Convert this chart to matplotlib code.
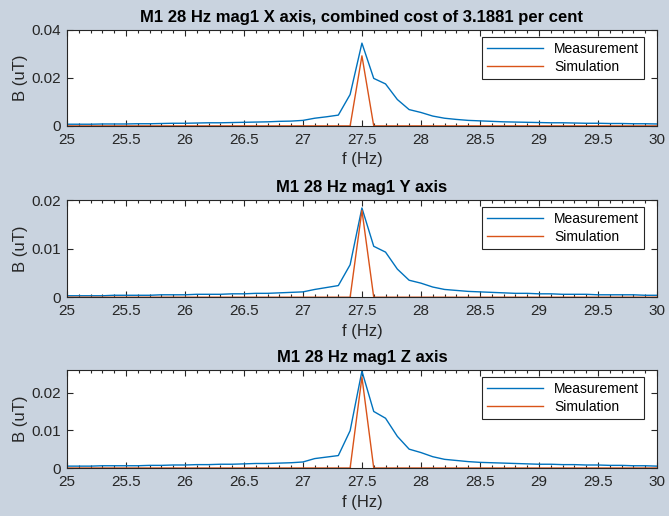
import numpy as np
import matplotlib
matplotlib.use("Agg")
import matplotlib.pyplot as plt
from matplotlib.ticker import MultipleLocator, FuncFormatter

plt.rcParams['font.family'] = ['Liberation Sans', 'DejaVu Sans']

# frequency bins (0.1 Hz resolution)
freq = np.linspace(25.0, 30.0, 51)

meas_x = [0.0007, 0.0007, 0.0007, 0.0008, 0.0008, 0.0008, 0.0009, 0.0009, 0.0010, 0.0011,
          0.0011, 0.0012, 0.0013, 0.0013, 0.0014, 0.0015, 0.0016, 0.0017, 0.0019, 0.0020,
          0.0023, 0.0032, 0.0038, 0.0045, 0.0131, 0.0345, 0.0198, 0.0175, 0.0110, 0.0068,
          0.0056, 0.0041, 0.0032, 0.0027, 0.0023, 0.0021, 0.0019, 0.0017, 0.0016, 0.0015,
          0.0014, 0.0013, 0.0013, 0.0012, 0.0011, 0.0011, 0.0010, 0.0010, 0.0009, 0.0009,
          0.0008]
meas_y = [0.0003, 0.0003, 0.0003, 0.0003, 0.0004, 0.0004, 0.0004, 0.0004, 0.0005, 0.0005,
          0.0005, 0.0006, 0.0006, 0.0006, 0.0007, 0.0007, 0.0008, 0.0008, 0.0009, 0.0010,
          0.0011, 0.0016, 0.0020, 0.0024, 0.0067, 0.0184, 0.0105, 0.0093, 0.0058, 0.0035,
          0.0029, 0.0021, 0.0016, 0.0014, 0.0012, 0.0011, 0.0010, 0.0009, 0.0008, 0.0008,
          0.0007, 0.0007, 0.0006, 0.0006, 0.0006, 0.0005, 0.0005, 0.0005, 0.0005, 0.0004,
          0.0004]
meas_z = [0.0005, 0.0005, 0.0005, 0.0006, 0.0006, 0.0006, 0.0006, 0.0007, 0.0007, 0.0008,
          0.0008, 0.0009, 0.0009, 0.0010, 0.0010, 0.0011, 0.0012, 0.0012, 0.0013, 0.0014,
          0.0016, 0.0025, 0.0029, 0.0033, 0.0099, 0.0257, 0.0150, 0.0132, 0.0084, 0.0050,
          0.0041, 0.0030, 0.0023, 0.0020, 0.0017, 0.0015, 0.0014, 0.0013, 0.0012, 0.0011,
          0.0010, 0.0010, 0.0009, 0.0009, 0.0008, 0.0008, 0.0007, 0.0007, 0.0006, 0.0006,
          0.0005]

# simulation: single line at 27.5 Hz
sim_x = [0.0] * 25 + [0.0292] + [0.0] * 25
sim_y = [0.0] * 25 + [0.0179] + [0.0] * 25
sim_z = [0.0] * 25 + [0.0241] + [0.0] * 25

titles = ["M1 28 Hz mag1 X axis, combined cost of 3.1881 per cent",
          "M1 28 Hz mag1 Y axis",
          "M1 28 Hz mag1 Z axis"]
ylims = [0.04, 0.02, 0.026]
yticks = [[0, 0.02, 0.04], [0, 0.01, 0.02], [0, 0.01, 0.02]]

BG = '#c9d3df'
DARK = '#262626'

fig = plt.figure(figsize=(6.69, 5.16), dpi=100, facecolor=BG)
rects = [[0.100, 0.756, 0.882, 0.186],
         [0.100, 0.424, 0.882, 0.188],
         [0.100, 0.093, 0.882, 0.190]]

series = [(meas_x, sim_x), (meas_y, sim_y), (meas_z, sim_z)]

for i in range(3):
    ax = fig.add_axes(rects[i])
    meas, sim = series[i]
    ax.plot(freq, meas, color='#0072BD', lw=1.0, label='Measurement')
    ax.plot(freq, sim, color='#D95319', lw=1.0, label='Simulation')

    ax.set_xlim(25, 30)
    ax.set_ylim(0, ylims[i])
    ax.set_xticks(np.arange(25, 30.01, 0.5))
    ax.xaxis.set_minor_locator(MultipleLocator(0.1))
    ax.set_yticks(yticks[i])
    fmt = FuncFormatter(lambda v, p: '0' if v == 0 else '%g' % v)
    ax.xaxis.set_major_formatter(fmt)
    ax.yaxis.set_major_formatter(fmt)

    ax.tick_params(which='both', direction='in', top=True, right=True,
                   colors=DARK, labelsize=11, width=0.8)
    ax.tick_params(which='major', length=4)
    ax.tick_params(which='minor', length=2.2)
    ax.tick_params(axis='x', which='major', pad=5)
    ax.tick_params(axis='y', which='major', pad=4)
    for s in ax.spines.values():
        s.set_color(DARK)
        s.set_linewidth(0.8)

    ax.set_title(titles[i], fontsize=12, fontweight='bold', pad=6)
    ax.set_xlabel('f (Hz)', fontsize=12, color=DARK, labelpad=4)
    ax.set_ylabel('B (uT)', fontsize=12, color=DARK, labelpad=3)

    leg = ax.legend(loc='upper right', bbox_to_anchor=(0.978, 0.93), borderaxespad=0,
                    fontsize=10, handlelength=4, fancybox=False, framealpha=1,
                    edgecolor=DARK, borderpad=0.35, labelspacing=0.3)
    leg.get_frame().set_linewidth(0.8)

fig.savefig('out.png', dpi=100, facecolor=BG)
